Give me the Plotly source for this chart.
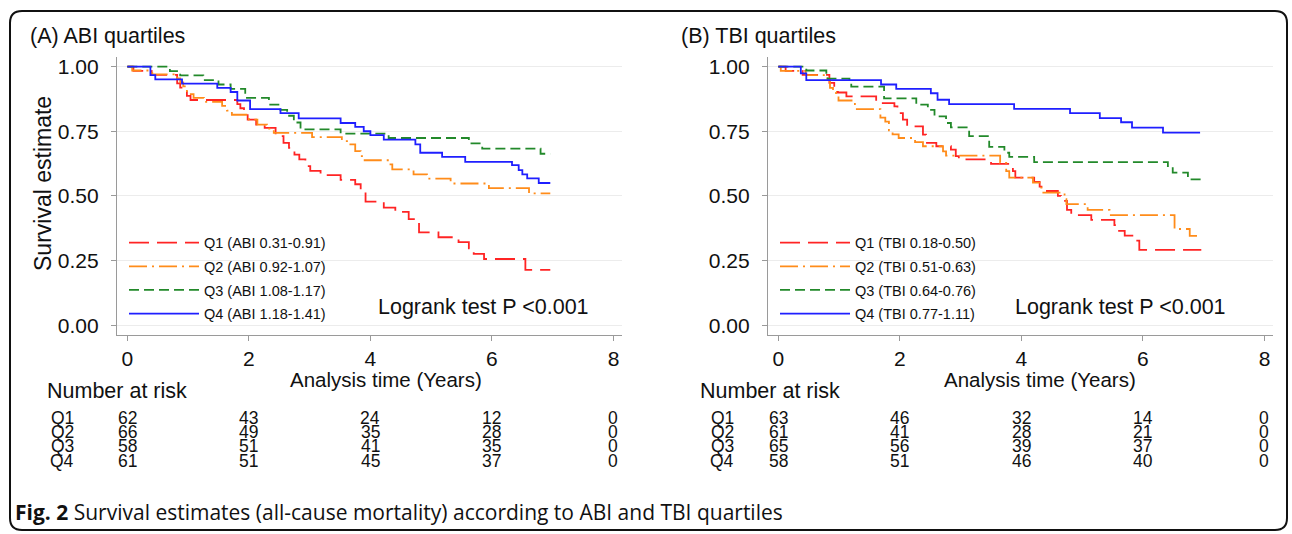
import re
import plotly.graph_objects as go

W, H = 1292, 534

# ---------------- data ----------------
groups = ["Q1", "Q2", "Q3", "Q4"]
abi_labels = ["Q1 (ABI 0.31-0.91)", "Q2 (ABI 0.92-1.07)", "Q3 (ABI 1.08-1.17)", "Q4 (ABI 1.18-1.41)"]
tbi_labels = ["Q1 (TBI 0.18-0.50)", "Q2 (TBI 0.51-0.63)", "Q3 (TBI 0.64-0.76)", "Q4 (TBI 0.77-1.11)"]

abi_q1_t = [0, 0.10, 0.40, 0.82, 0.87, 0.93, 0.98, 1.04, 1.81, 1.86, 1.92, 1.98, 2.12, 2.26, 2.44, 2.57, 2.66,
            2.75, 2.83, 2.93, 3.01, 3.18, 3.51, 3.75, 3.84, 3.92, 4.22, 4.41, 4.63, 4.80, 5.12, 5.45, 5.62,
            5.70, 5.87, 6.55, 6.96]
abi_q1_s = [1.0, 0.984, 0.968, 0.935, 0.919, 0.903, 0.887, 0.871, 0.855, 0.839, 0.823, 0.795, 0.776, 0.763,
            0.731, 0.705, 0.686, 0.660, 0.641, 0.615, 0.597, 0.580, 0.562, 0.545, 0.520, 0.478, 0.455, 0.438,
            0.410, 0.359, 0.340, 0.321, 0.297, 0.276, 0.256, 0.214, 0.214]

abi_q2_t = [0, 0.08, 0.41, 0.82, 0.87, 0.92, 0.98, 1.09, 1.26, 1.56, 1.64, 1.72, 2.00, 2.14, 2.30, 2.41, 3.04,
            3.53, 3.67, 3.75, 3.84, 3.89, 4.33, 4.36, 4.71, 4.93, 5.32, 5.95, 6.61, 6.96]
abi_q2_s = [1.0, 0.985, 0.970, 0.955, 0.939, 0.924, 0.894, 0.879, 0.864, 0.848, 0.830, 0.814, 0.795, 0.776,
            0.760, 0.744, 0.727, 0.712, 0.699, 0.673, 0.654, 0.638, 0.622, 0.603, 0.583, 0.567, 0.548, 0.530,
            0.510, 0.510]

abi_q3_t = [0, 0.70, 0.87, 1.25, 1.50, 1.70, 1.94, 2.33, 2.52, 2.63, 2.74, 2.85, 3.51, 4.30, 5.62, 5.84, 6.80, 6.96]
abi_q3_s = [1.0, 0.983, 0.966, 0.948, 0.931, 0.914, 0.879, 0.853, 0.833, 0.810, 0.784, 0.757, 0.741, 0.724,
            0.703, 0.683, 0.663, 0.663]

abi_q4_t = [0, 0.38, 0.46, 0.90, 1.48, 1.70, 1.81, 2.02, 2.52, 2.82, 3.51, 3.75, 3.89, 4.00, 4.22, 4.74, 4.82,
            5.18, 5.56, 6.33, 6.44, 6.50, 6.58, 6.77, 6.96]
abi_q4_s = [1.0, 0.967, 0.951, 0.934, 0.918, 0.902, 0.869, 0.836, 0.820, 0.800, 0.782, 0.767, 0.750, 0.735,
            0.718, 0.699, 0.667, 0.651, 0.632, 0.619, 0.600, 0.583, 0.568, 0.550, 0.550]

tbi_q1_t = [0, 0.12, 0.40, 0.84, 0.92, 0.98, 1.12, 1.61, 1.91, 1.96, 2.05, 2.12, 2.38, 2.43, 2.60, 2.84, 2.92,
            2.97, 3.50, 3.86, 3.90, 4.21, 4.30, 4.33, 4.60, 4.65, 4.75, 4.82, 5.15, 5.53, 5.59, 5.70, 5.86,
            5.94, 6.96]
tbi_q1_s = [1.0, 0.984, 0.968, 0.937, 0.918, 0.900, 0.885, 0.859, 0.846, 0.820, 0.795, 0.769, 0.737, 0.705,
            0.692, 0.679, 0.654, 0.641, 0.624, 0.596, 0.571, 0.554, 0.536, 0.519, 0.500, 0.481, 0.446, 0.426,
            0.407, 0.387, 0.365, 0.346, 0.327, 0.291, 0.291]

tbi_q2_t = [0, 0.04, 0.45, 0.81, 0.85, 0.90, 0.95, 0.99, 1.26, 1.68, 1.76, 1.82, 1.88, 1.98, 2.25, 2.38, 2.71,
            2.76, 3.65, 3.75, 3.80, 4.19, 4.30, 4.33, 4.71, 4.74, 5.09, 5.45, 6.52, 6.77, 6.96]
tbi_q2_s = [1.0, 0.984, 0.967, 0.951, 0.918, 0.902, 0.885, 0.869, 0.836, 0.803, 0.787, 0.754, 0.738, 0.724,
            0.708, 0.692, 0.672, 0.656, 0.628, 0.596, 0.571, 0.551, 0.532, 0.513, 0.487, 0.468, 0.446, 0.426,
            0.372, 0.345, 0.345]

tbi_q3_t = [0, 0.46, 0.79, 0.81, 1.17, 1.20, 1.74, 2.27, 2.46, 2.57, 2.76, 2.84, 3.14, 3.47, 3.72, 3.80, 4.21,
            6.41, 6.49, 6.74, 6.96]
tbi_q3_s = [1.0, 0.985, 0.969, 0.954, 0.938, 0.923, 0.877, 0.853, 0.833, 0.808, 0.782, 0.765, 0.731, 0.690,
            0.667, 0.651, 0.631, 0.615, 0.590, 0.564, 0.564]

tbi_q4_t = [0, 0.37, 0.46, 1.69, 1.94, 2.51, 2.62, 2.81, 3.88, 4.80, 5.29, 5.64, 5.82, 6.33, 6.94]
tbi_q4_s = [1.0, 0.974, 0.948, 0.931, 0.914, 0.897, 0.872, 0.855, 0.837, 0.820, 0.801, 0.785, 0.764, 0.745, 0.745]

risk_times = [0, 2, 4, 6, 8]
abi_risk = [[62, 43, 24, 12, 0], [66, 49, 35, 28, 0], [58, 51, 41, 35, 0], [61, 51, 45, 37, 0]]
tbi_risk = [[63, 46, 32, 14, 0], [61, 41, 28, 21, 0], [65, 56, 39, 37, 0], [58, 51, 46, 40, 0]]

x_ticks = [0, 2, 4, 6, 8]
y_ticks = [0, 0.25, 0.5, 0.75, 1.0]
y_tick_text = ["0.00", "0.25", "0.50", "0.75", "1.00"]

# ---------------- styles ----------------
colors = ["#ff2424", "#ff8c1a", "#22892a", "#1f1fff"]
dashes = ["20px,8px", "18px,5px,2px,5px", "10px,5px", "solid"]
FONT = "Liberation Sans, Arial, sans-serif"
TXT = "#111111"


def px(x):
    return x / W


def py(y):
    return 1 - y / H


fig = go.Figure()

panels = [
    (dict(zip(groups, [(abi_q1_t, abi_q1_s), (abi_q2_t, abi_q2_s), (abi_q3_t, abi_q3_s), (abi_q4_t, abi_q4_s)])),
     abi_labels, "x", "y", "legend"),
    (dict(zip(groups, [(tbi_q1_t, tbi_q1_s), (tbi_q2_t, tbi_q2_s), (tbi_q3_t, tbi_q3_s), (tbi_q4_t, tbi_q4_s)])),
     tbi_labels, "x2", "y2", "legend2"),
]

for data, labels, xa, ya, lg in panels:
    for i, g in enumerate(groups):
        t, s = data[g]
        fig.add_trace(go.Scatter(
            x=t, y=s, mode="lines", name=labels[i], xaxis=xa, yaxis=ya, legend=lg,
            line=dict(color=colors[i], width=1.8, dash=dashes[i], shape="hv"),
            legendgroup=lg + g, hoverinfo="x+y",
        ))

# plot areas in pixels
L_left, L_right = 117, 622
R_left, R_right = 768, 1273
P_top, P_bot = 55, 335
xr = [-0.17, 8.14]
yr = [-0.0385, 1.0385]

axis_common = dict(
    showline=True, linecolor="#9a9a9a", linewidth=1.3, ticks="outside", ticklen=5,
    tickcolor="#9a9a9a", tickwidth=1.3, tickfont=dict(family=FONT, size=21, color=TXT),
    zeroline=False,
)

legend_common = dict(xanchor="left", yanchor="top", bgcolor="rgba(0,0,0,0)",
                     font=dict(family=FONT, size=14.5, color=TXT), itemwidth=70, tracegroupgap=1.8,
                     traceorder="grouped")

fig.update_layout(
    width=W, height=H, margin=dict(l=0, r=0, t=0, b=0),
    paper_bgcolor="white", plot_bgcolor="white", showlegend=True,
    xaxis=dict(domain=[px(L_left), px(L_right)], range=xr, tickvals=x_ticks, showgrid=False,
               anchor="y", **axis_common),
    yaxis=dict(domain=[py(P_bot), py(P_top)], range=yr, tickvals=y_ticks, ticktext=y_tick_text,
               showgrid=True, gridcolor="#ececec", gridwidth=1, anchor="x", ticklabelstandoff=8,
               **axis_common),
    xaxis2=dict(domain=[px(R_left), px(R_right)], range=xr, tickvals=x_ticks, showgrid=False,
                anchor="y2", **axis_common),
    yaxis2=dict(domain=[py(P_bot), py(P_top)], range=yr, tickvals=y_ticks, ticktext=y_tick_text,
                showgrid=True, gridcolor="#ececec", gridwidth=1, anchor="x2", ticklabelstandoff=8,
                **axis_common),
    legend=dict(x=px(124), y=py(226), **legend_common),
    legend2=dict(x=px(775), y=py(226), **legend_common),
)

ann = []


def text(x, y, s, size=21, xanchor="left", xref="paper", textangle=0, family=FONT):
    ann.append(dict(x=x, y=y, xref=xref, yref="paper", text=s, showarrow=False, xanchor=xanchor,
                    yanchor="middle", textangle=textangle, font=dict(family=family, size=size, color=TXT)))


# titles
text(px(28), py(34), "(A) ABI quartiles", size=21.5)
text(px(679), py(34), "(B) TBI quartiles", size=21.5)
# logrank
text(px(376), py(307), "Logrank test P <0.001", size=21.5)
text(px(1013), py(307), "Logrank test P <0.001", size=21.5)
# y title
text(px(43), py(183), "Survival estimate", size=23, xanchor="center", textangle=-90)
# x titles
text(px(386), py(380), "Analysis time (Years)", size=20.5, xanchor="center")
text(px(1040), py(380), "Analysis time (Years)", size=20.5, xanchor="center")
# number at risk
text(px(45), py(391), "Number at risk", size=21.5)
text(px(698), py(391), "Number at risk", size=21.5)

row_y = [418, 432.5, 447, 461.5]
for risk, xref, qx in [(abi_risk, "x", 62), (tbi_risk, "x2", 722)]:
    for gi, g in enumerate(groups):
        text(px(qx), py(row_y[gi]), g, size=17.5, xanchor="center")
        for ti, tt in enumerate(risk_times):
            text(tt, py(row_y[gi]), str(risk[gi][ti]), size=17.5, xanchor="center", xref=xref)

# caption
text(px(13), py(513), "<b>Fig. 2</b> Survival estimates (all-cause mortality) according to ABI and TBI quartiles",
     size=21, family="Open Sans, sans-serif")

fig.update_layout(annotations=ann)

# rounded frame
x0, y0, x1, y1, r = 10, 9, 1287, 531, 12
path = (f"M{x0 + r},{y0} L{x1 - r},{y0} Q{x1},{y0} {x1},{y0 + r} L{x1},{y1 - r} Q{x1},{y1} {x1 - r},{y1} "
        f"L{x0 + r},{y1} Q{x0},{y1} {x0},{y1 - r} L{x0},{y0 + r} Q{x0},{y0} {x0 + r},{y0} Z")


def conv(m):
    a, b = float(m.group(1)), float(m.group(2))
    return f"{a / W:.5f},{1 - b / H:.5f}"


path_p = re.sub(r"(-?\d+\.?\d*),(-?\d+\.?\d*)", conv, path)
fig.add_shape(type="path", path=path_p, xref="paper", yref="paper", line=dict(color="#111111", width=2))

fig.write_html("out.html", config={"displayModeBar": False},
               post_script="document.body.style.margin='0';")
